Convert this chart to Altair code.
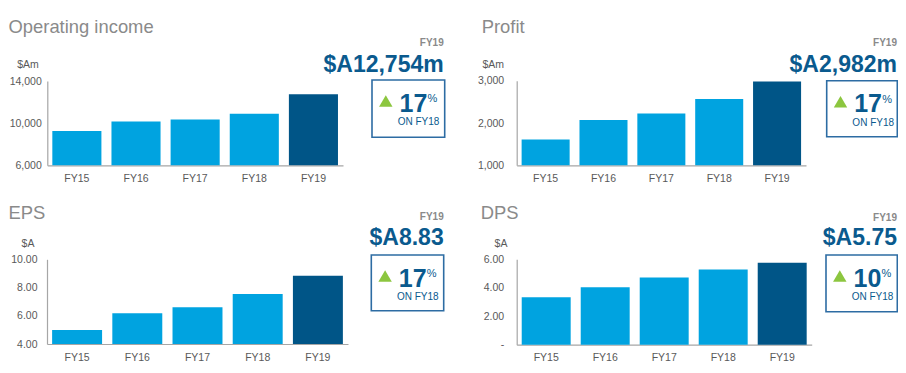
import altair as alt
import pandas as pd

# ---------------- data ----------------
years = ["FY15", "FY16", "FY17", "FY18", "FY19"]
op_income = [9250, 10150, 10350, 10900, 12754]
profit = [1610, 2070, 2225, 2570, 2982]
eps = [5.00, 6.18, 6.60, 7.55, 8.83]
dps = [3.33, 4.03, 4.72, 5.28, 5.75]
series = [op_income, profit, eps, dps]

titles = ["Operating income", "Profit", "EPS", "DPS"]
units = ["$Am", "$Am", "$A", "$A"]
headlines = ["$A12,754m", "$A2,982m", "$A8.83", "$A5.75"]
growth = ["17", "17", "17", "10"]
growth_note = "ON FY18"
latest_label = "FY19"

y_domains = [[6000, 14000], [1000, 3000], [4, 10], [0, 6]]
y_ticks = [[6000, 10000, 14000], [1000, 2000, 3000], [4, 6, 8, 10], [0, 2, 4, 6]]
y_label_expr = [
    "format(datum.value, ',')",
    "format(datum.value, ',')",
    "format(datum.value, '.2f')",
    "datum.value == 0 ? '-' : format(datum.value, '.2f')",
]

# ---------------- styling / layout ----------------
M = 8
W, H = 906 - 2 * M, 373 - 2 * M
FONT = "Liberation Sans, Arial, Helvetica, sans-serif"
LIGHT = "#00a3e0"
DARK = "#005587"
HEAD = "#0a5a8e"
BOX = "#2d6ca3"
GREEN = "#8cc63f"
TITLE_GRAY = "#8a8a8a"
LABEL = "#595959"
AXIS = "#a6a6a6"

# page-pixel layout; the left column is nudged right so nothing falls into the page margin
DX = 3
layout = [
    dict(x0=44.3 + DX, x1=340 + DX, yb=165.3, yt=81, lp=6, tx=8.5, ty=33.3, ux=25 + DX, uy=68,
         right=440.7 + DX, fy=45.5, hy=71.7, box=(369 + DX, 80, 441.7 + DX, 137.3)),
    dict(x0=516.7, x1=806, yb=165.3, yt=80.7, lp=13, tx=481.7, ty=32.7, ux=493.3, uy=68,
         right=897, fy=45.5, hy=71.7, box=(826.7, 80.7, 897.3, 136.7)),
    dict(x0=44 + DX, x1=345 + DX, yb=344, yt=259.3, lp=10, tx=8.5, ty=219.3, ux=25 + DX, uy=246.5,
         right=440.7 + DX, fy=220, hy=245, box=(368.3 + DX, 255, 440.7 + DX, 310.7)),
    dict(x0=516.7, x1=811.7, yb=344.7, yt=259.3, lp=13, tx=480.7, ty=219.3, ux=501, uy=247,
         right=897, fy=220.5, hy=245, box=(826, 255, 897.3, 311.7)),
]

one = pd.DataFrame({"k": [0]})


def txt(s, x, y, size, color, align="left", weight="normal"):
    return alt.Chart(one).mark_text(
        text=s, align=align, baseline="alphabetic", fontSize=size, font=FONT,
        color=color, fontWeight=weight
    ).encode(x=alt.value(x - M), y=alt.value(y - M))


layers = []
for i in range(4):
    L = layout[i]
    df = pd.DataFrame({
        "year": years,
        "value": series[i],
        "latest": ["yes" if y == latest_label else "no" for y in years],
    })
    bars = alt.Chart(df).mark_bar().encode(
        x=alt.X(
            "year:N", sort=years,
            scale=alt.Scale(range=[L["x0"] - M, L["x1"] - M], paddingInner=0.17, paddingOuter=0.085),
            axis=alt.Axis(
                orient="bottom", offset=(L["yb"] - M) - H, title=None, labelAngle=0,
                ticks=False, tickSize=0, domainColor=AXIS, domainWidth=1.2,
                labelFont=FONT, labelFontSize=10.5, labelColor=LABEL, labelPadding=8,
            ),
        ),
        y=alt.Y(
            "value:Q",
            scale=alt.Scale(domain=y_domains[i], range=[L["yb"] - M, L["yt"] - M], nice=False, zero=False),
            axis=alt.Axis(
                orient="left", offset=-(L["x0"] - M), title=None, grid=False,
                ticks=False, tickSize=0, values=y_ticks[i], labelExpr=y_label_expr[i],
                domainColor=AXIS, domainWidth=1.2, labelFont=FONT, labelFontSize=10.5,
                labelColor=LABEL, labelPadding=L["lp"],
            ),
        ),
        y2=alt.datum(y_domains[i][0]),
        color=alt.Color("latest:N", scale=alt.Scale(domain=["no", "yes"], range=[LIGHT, DARK]), legend=None),
    )
    layers.append(bars)

    # panel texts
    layers.append(txt(titles[i], L["tx"], L["ty"], 18.4, TITLE_GRAY))
    layers.append(txt(units[i], L["ux"], L["uy"], 10.5, LABEL, align="center"))
    layers.append(txt(latest_label, L["right"], L["fy"], 10, TITLE_GRAY, align="right", weight="bold"))
    layers.append(txt(headlines[i], L["right"], L["hy"], 23, HEAD, align="right", weight="bold"))

    bx0, by0, bx1, by1 = L["box"]
    layers.append(
        alt.Chart(one).mark_rect(fill="white", fillOpacity=0, stroke=BOX, strokeWidth=1.6).encode(
            x=alt.value(bx0 - M), x2=alt.value(bx1 - M), y=alt.value(by0 - M), y2=alt.value(by1 - M)
        )
    )
    layers.append(
        alt.Chart(one).mark_point(shape="triangle-up", filled=True, size=180, color=GREEN, opacity=1).encode(
            x=alt.value(bx0 + 13.8 - M), y=alt.value(by0 + 21 - M)
        )
    )
    layers.append(txt(growth[i], bx0 + 27.5, by0 + 31.5, 25, HEAD, weight="bold"))
    layers.append(txt("%", bx0 + 55.5, by0 + 22, 11, HEAD))
    layers.append(txt(growth_note, bx0 + 46.5, by0 + 45, 10, HEAD, align="center"))

chart = (
    alt.layer(*layers)
    .resolve_scale(x="independent", y="independent")
    .properties(width=W, height=H, padding=0, autosize=alt.AutoSizeParams(type="none"), background="white")
    .configure_view(stroke=None)
)

chart.save("out.html", embed_options={"renderer": "svg", "actions": False})
